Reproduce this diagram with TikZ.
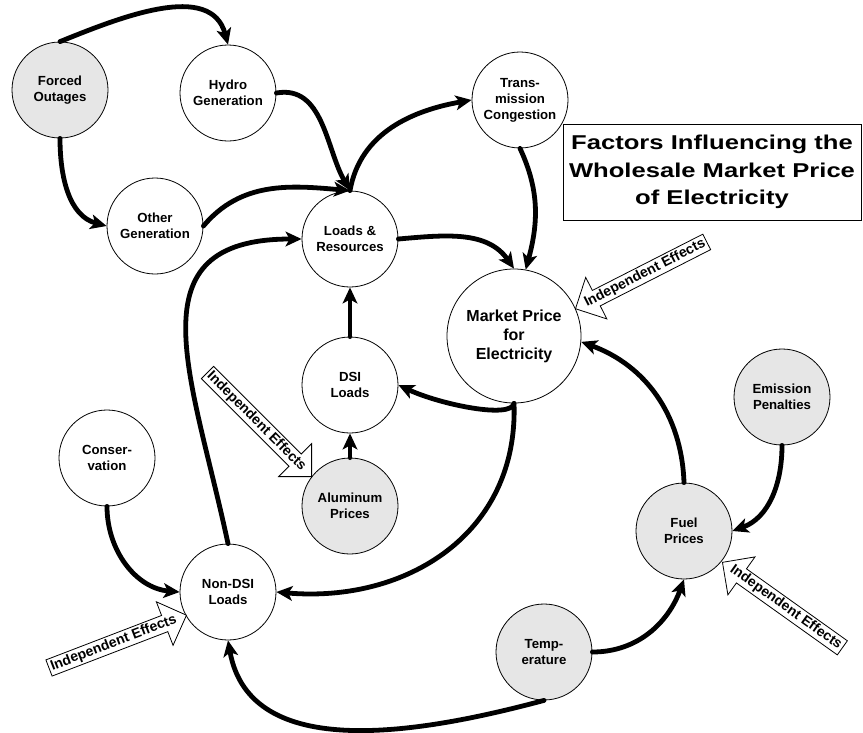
\documentclass[tikz,border=0pt]{standalone}
\usepackage{fontspec}
\setmainfont{Liberation Sans}
\newfontfamily\titlefont{Liberation Sans}[FakeStretch=1.28]
\usetikzlibrary{arrows.meta,shapes.arrows}
\definecolor{drivergray}{HTML}{E6E6E6}
\begin{document}
\begin{tikzpicture}[
    x=0.75pt, y=0.75pt,
    factor/.style={circle,draw,line width=0.6pt,fill=white,minimum size=72pt,inner sep=0pt,
        align=center,font=\bfseries\fontsize{9.9}{12}\selectfont},
    driver/.style={factor,fill=drivergray},
    link/.style={line width=3.6pt,line cap=round,-{Stealth[length=12pt,width=11pt,inset=3pt]}},
    effect/.style={single arrow,draw,fill=white,line width=0.6pt,inner xsep=1.5pt,inner ysep=1.3pt,
        single arrow head extend=11pt,single arrow tip angle=90,
        font=\bfseries\fontsize{10.5}{12}\selectfont},
    title/.style={draw,line width=0.6pt,fill=white,minimum width=223.5pt,minimum height=72pt,
        align=center,font=\titlefont\bfseries\fontsize{15}{20.6}\selectfont}
]
\useasboundingbox (0,0) rectangle (863,-732);

\node[title] (T) at (712,-172) {Factors Influencing the\\Wholesale Market Price\\of Electricity};

\node[driver] (FO)  at (60,-90)   {Forced\\Outages};
\node[factor] (HG)  at (228,-93)  {Hydro\\Generation};
\node[factor] (OG)  at (155,-226) {Other\\Generation};
\node[factor] (LR)  at (350,-239) {Loads \&\\Resources};
\node[factor] (TC)  at (520,-100) {Trans-\\mission\\Congestion};
\node[factor,minimum size=100.5pt,font=\bfseries\fontsize{12}{14.2}\selectfont]
              (MP)  at (514,-336) {Market Price\\for\\Electricity};
\node[factor] (DSI) at (350,-385) {DSI\\Loads};
\node[driver] (AP)  at (350,-506) {Aluminum\\Prices};
\node[factor] (CO)  at (107,-458) {Conser-\\vation};
\node[factor] (ND)  at (228,-592) {Non-DSI\\Loads};
\node[driver] (EP)  at (782,-397) {Emission\\Penalties};
\node[driver] (FP)  at (684,-531) {Fuel\\Prices};
\node[driver] (TE)  at (544,-652) {Temp-\\erature};

\draw[link] (FO.north) to[out=22,in=105] (HG.north);
\draw[link] (FO.south) to[out=-90,in=165] (OG.west);
\draw[link] (HG.east) to[out=10,in=120] (LR.north);
\draw[link] (OG.east) to[out=50,in=175] (LR.north);
\draw[link] (LR.north) to[out=80,in=190] (TC.west);
\draw[link] (LR.east) to[out=5,in=125] (MP.north);
\draw[link] (TC.south) to[out=-65,in=75] (MP.80);
\draw[link] (DSI.north) -- (LR.south);
\draw[link] (AP.north) -- (DSI.south);
\draw[link] (MP.south) to[out=-100,in=-25,out looseness=0.35] (DSI.east);
\draw[link] (MP.south) to[out=-88,in=-5,looseness=1.1] (ND.east);
\draw[link] (ND.north) to[out=102,in=180,looseness=1.4] (LR.west);
\draw[link] (CO.south) to[out=-90,in=175] (ND.west);
\draw[link] (TE.south) to[out=195,in=-80,looseness=1.0] (ND.south);
\draw[link] (TE.east) to[out=0,in=-110] (FP.south);
\draw[link] (FP.north) to[out=92,in=-20] (MP.-5);
\draw[link] (EP.south) to[out=-90,in=20] (FP.east);

\node[effect,rotate=21,anchor=tip] (IE1) at (187,-615) {Independent Effects};
\node[effect,rotate=-45,anchor=tip] (IE2) at (312,-477) {Independent Effects};
\node[effect,shape border rotate=180,rotate=27,anchor=tip] (IE3) at (575,-309) {Independent Effects};
\node[effect,shape border rotate=180,rotate=-35.5,anchor=tip] (IE4) at (722,-562) {Independent Effects};
\end{tikzpicture}
\end{document}
